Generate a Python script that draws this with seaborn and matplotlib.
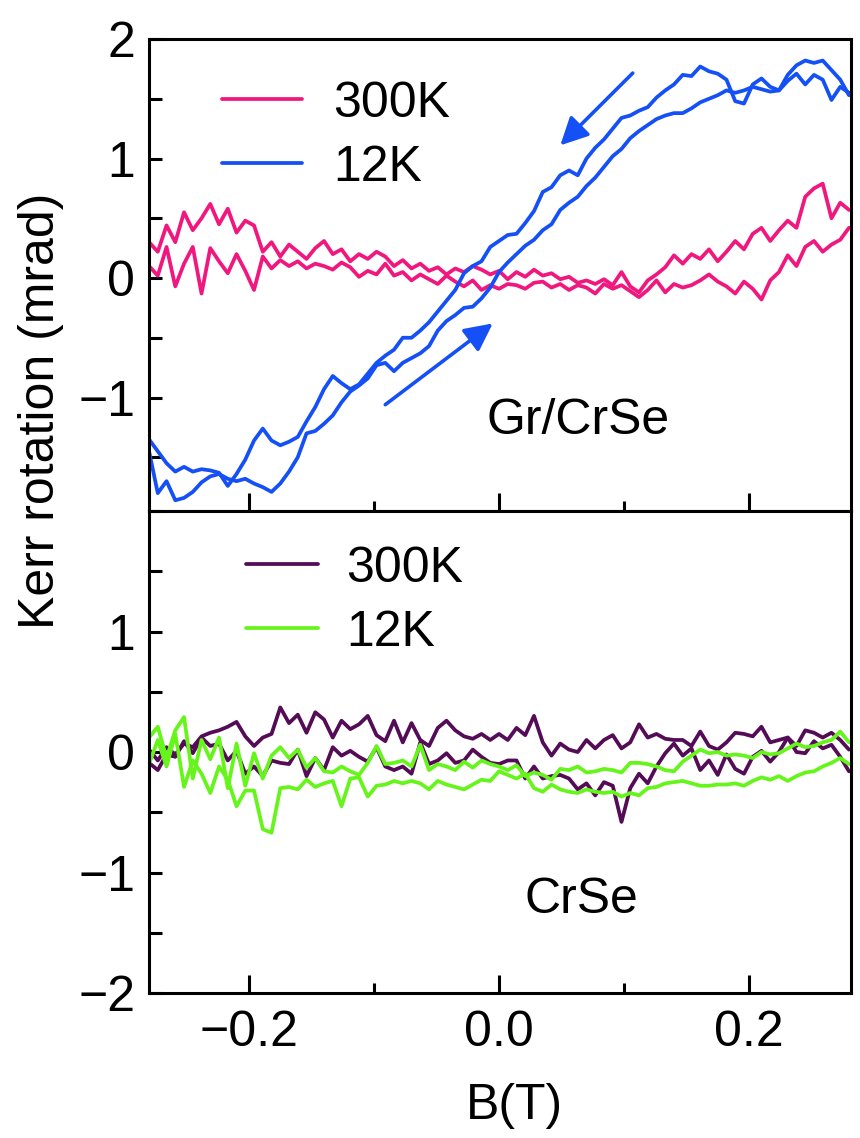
import numpy as np
import matplotlib
matplotlib.use("Agg")
import matplotlib.pyplot as plt
from matplotlib.ticker import MultipleLocator
import seaborn as sns

sns.set_style("ticks")
plt.rcParams['font.family'] = ['Liberation Sans', 'DejaVu Sans']
plt.rcParams['axes.linewidth'] = 2.2
for key in ['text.color', 'axes.labelcolor', 'xtick.color', 'ytick.color', 'axes.edgecolor']:
    plt.rcParams[key] = 'black'

# magnetic field sweep (T), same points for every branch
field = [-0.280, -0.273, -0.266, -0.259, -0.252, -0.245, -0.238, -0.231, -0.224, -0.217,
         -0.210, -0.203, -0.196, -0.189, -0.182, -0.175, -0.168, -0.161, -0.154, -0.147,
         -0.140, -0.133, -0.126, -0.119, -0.112, -0.105, -0.098, -0.091, -0.084, -0.077,
         -0.070, -0.063, -0.056, -0.049, -0.042, -0.035, -0.028, -0.021, -0.014, -0.007,
         0.000, 0.007, 0.014, 0.021, 0.028, 0.035, 0.042, 0.049, 0.056, 0.063,
         0.070, 0.077, 0.084, 0.091, 0.098, 0.105, 0.112, 0.119, 0.126, 0.133,
         0.140, 0.147, 0.154, 0.161, 0.168, 0.175, 0.182, 0.189, 0.196, 0.203,
         0.210, 0.217, 0.224, 0.231, 0.238, 0.245, 0.252, 0.259, 0.266, 0.273, 0.280]

# Gr/CrSe, 300K (two sweep branches)
gr_300_a = [0.30, 0.22, 0.44, 0.30, 0.55, 0.40, 0.50, 0.62, 0.45, 0.58,
            0.38, 0.48, 0.44, 0.22, 0.30, 0.18, 0.28, 0.22, 0.16, 0.25,
            0.31, 0.20, 0.24, 0.14, 0.20, 0.16, 0.22, 0.18, 0.10, 0.15,
            0.08, 0.12, 0.06, 0.09, 0.03, 0.08, 0.05, 0.10, 0.07, 0.03,
            0.06, -0.01, 0.05, 0.01, 0.07, 0.02, 0.04, -0.01, 0.01, -0.04,
            -0.02, -0.05, -0.01, -0.06, 0.05, -0.07, -0.12, -0.02, 0.03, 0.09,
            0.19, 0.12, 0.20, 0.16, 0.24, 0.14, 0.22, 0.31, 0.24, 0.37,
            0.42, 0.31, 0.40, 0.48, 0.42, 0.68, 0.75, 0.79, 0.50, 0.63, 0.57]
gr_300_b = [0.10, 0.02, 0.26, -0.07, 0.12, 0.26, -0.13, 0.25, 0.14, 0.04,
            0.20, 0.06, -0.10, 0.18, 0.08, 0.15, 0.10, 0.14, 0.08, 0.12,
            0.10, 0.07, 0.13, 0.09, 0.01, 0.06, 0.03, 0.12, 0.02, 0.05,
            -0.02, 0.03, -0.01, -0.05, 0.02, -0.03, -0.07, -0.02, -0.10, -0.06,
            -0.09, -0.05, -0.06, -0.09, -0.04, -0.03, -0.08, -0.05, -0.10, -0.06,
            -0.08, -0.13, -0.05, -0.09, -0.06, -0.11, -0.16, -0.10, -0.02, -0.12,
            -0.05, -0.08, -0.06, -0.02, 0.03, -0.03, -0.07, -0.13, -0.03, -0.09,
            -0.18, -0.02, 0.05, 0.19, 0.10, 0.26, 0.31, 0.22, 0.28, 0.32, 0.42]

# Gr/CrSe, 12K: down sweep and up sweep
gr_12_down = [-1.35, -1.45, -1.55, -1.62, -1.58, -1.62, -1.60, -1.61, -1.63, -1.74,
              -1.64, -1.52, -1.36, -1.26, -1.36, -1.40, -1.37, -1.33, -1.20, -1.08,
              -0.93, -0.82, -0.88, -0.93, -0.89, -0.80, -0.71, -0.65, -0.60, -0.50,
              -0.50, -0.44, -0.37, -0.28, -0.19, -0.10, 0.04, 0.10, 0.14, 0.26,
              0.31, 0.36, 0.37, 0.46, 0.56, 0.72, 0.76, 0.86, 0.90, 0.86,
              1.00, 1.09, 1.16, 1.25, 1.34, 1.36, 1.40, 1.43, 1.51, 1.57,
              1.62, 1.70, 1.69, 1.77, 1.73, 1.71, 1.66, 1.48, 1.46, 1.62,
              1.67, 1.60, 1.57, 1.70, 1.78, 1.82, 1.80, 1.82, 1.74, 1.66, 1.53]
gr_12_up = [-1.45, -1.80, -1.70, -1.86, -1.84, -1.79, -1.71, -1.66, -1.64, -1.68,
            -1.70, -1.68, -1.72, -1.75, -1.79, -1.72, -1.62, -1.50, -1.30, -1.28,
            -1.22, -1.15, -1.04, -0.95, -0.90, -0.84, -0.73, -0.71, -0.78, -0.71,
            -0.67, -0.63, -0.57, -0.44, -0.36, -0.31, -0.25, -0.24, -0.17, -0.08,
            0.05, 0.13, 0.20, 0.27, 0.32, 0.40, 0.45, 0.57, 0.63, 0.68,
            0.77, 0.84, 0.93, 1.02, 1.08, 1.17, 1.23, 1.28, 1.33, 1.36,
            1.38, 1.38, 1.42, 1.47, 1.50, 1.53, 1.57, 1.55, 1.57, 1.60,
            1.58, 1.56, 1.57, 1.65, 1.71, 1.62, 1.70, 1.66, 1.49, 1.60, 1.55]

# CrSe, 300K
cr_300_a = [0.02, -0.07, 0.04, -0.02, 0.07, 0.04, 0.13, 0.16, 0.18, 0.21,
            0.25, 0.13, 0.05, 0.12, 0.15, 0.37, 0.24, 0.31, 0.16, 0.33,
            0.27, 0.12, 0.26, 0.19, 0.23, 0.30, 0.14, 0.09, 0.26, 0.08,
            0.24, 0.10, 0.05, 0.20, 0.26, 0.18, 0.13, 0.11, 0.15, 0.10,
            0.15, 0.10, 0.20, 0.14, 0.30, 0.08, -0.03, 0.07, 0.02, 0.00,
            0.10, 0.03, 0.10, 0.14, 0.03, 0.08, 0.23, 0.12, 0.15, 0.11,
            0.10, 0.10, 0.05, 0.17, 0.05, 0.02, 0.08, 0.16, 0.15, 0.13,
            0.21, 0.08, 0.10, 0.12, 0.05, 0.18, 0.16, 0.12, 0.16, 0.10, 0.02]
cr_300_b = [-0.09, -0.15, -0.02, -0.04, 0.09, -0.01, 0.12, 0.05, 0.07, -0.07,
            0.01, -0.18, -0.12, -0.20, -0.07, -0.09, -0.10, 0.02, -0.20, -0.05,
            -0.15, 0.04, -0.03, 0.01, -0.04, -0.08, 0.04, -0.12, -0.15, -0.12,
            -0.18, 0.08, -0.10, -0.07, -0.01, -0.09, -0.07, 0.02, -0.04, -0.09,
            -0.10, -0.07, -0.07, -0.22, -0.12, -0.22, -0.20, -0.19, -0.22, -0.31,
            -0.26, -0.36, -0.25, -0.28, -0.58, -0.30, -0.18, -0.26, -0.12, -0.01,
            0.07, -0.03, 0.03, -0.15, -0.07, -0.19, -0.02, -0.14, -0.18, -0.04,
            0.01, -0.08, 0.00, 0.12, 0.00, -0.01, 0.09, 0.03, 0.06, -0.04, -0.16]

# CrSe, 12K
cr_12_a = [0.12, 0.21, -0.05, 0.18, 0.29, -0.22, 0.10, -0.06, 0.12, -0.30,
           0.07, -0.28, -0.01, -0.22, -0.03, 0.04, -0.05, 0.02, -0.13, -0.05,
           -0.16, -0.17, -0.12, -0.16, -0.19, -0.09, 0.05, -0.10, -0.09, -0.07,
           -0.12, 0.06, -0.15, -0.10, -0.12, -0.15, -0.08, -0.13, -0.07, -0.10,
           -0.12, -0.15, -0.11, -0.20, -0.17, -0.19, -0.23, -0.14, -0.15, -0.12,
           -0.17, -0.16, -0.14, -0.15, -0.17, -0.09, -0.09, -0.10, -0.12, -0.15,
           -0.16, -0.08, -0.03, 0.02, -0.01, 0.00, -0.03, -0.02, -0.03, -0.05,
           0.00, -0.02, -0.01, 0.03, 0.07, 0.04, 0.05, 0.08, 0.10, 0.17, 0.08]
cr_12_b = [-0.10, 0.10, -0.12, 0.15, -0.29, -0.07, -0.18, -0.34, -0.12, -0.23,
           -0.45, -0.32, -0.32, -0.64, -0.67, -0.30, -0.29, -0.31, -0.23, -0.29,
           -0.26, -0.24, -0.45, -0.22, -0.21, -0.37, -0.28, -0.27, -0.24, -0.26,
           -0.24, -0.26, -0.31, -0.24, -0.27, -0.29, -0.31, -0.27, -0.23, -0.24,
           -0.16, -0.19, -0.22, -0.18, -0.30, -0.33, -0.27, -0.31, -0.33, -0.34,
           -0.31, -0.33, -0.34, -0.33, -0.37, -0.34, -0.36, -0.30, -0.29, -0.26,
           -0.25, -0.24, -0.26, -0.28, -0.28, -0.27, -0.27, -0.26, -0.28, -0.24,
           -0.21, -0.23, -0.20, -0.24, -0.20, -0.17, -0.16, -0.12, -0.09, -0.05, -0.10]

pink = '#F0187F'
blue = '#1450F5'
purple = '#540C57'
green = '#66F51A'
fs = 36
lw = 2.7

fig, (ax1, ax2) = plt.subplots(2, 1, figsize=(8.6, 11.38), dpi=100, sharex=True,
                               gridspec_kw={'height_ratios': [472, 482], 'hspace': 0})
fig.subplots_adjust(left=0.1733, right=0.9895, top=0.9657, bottom=0.1274)

#Top panel: Gr/CrSe
sns.lineplot(x=field, y=gr_300_a, ax=ax1, color=pink, linewidth=lw, estimator=None, label='300K')
sns.lineplot(x=field, y=gr_300_b, ax=ax1, color=pink, linewidth=lw, estimator=None, label='_nolegend_')
sns.lineplot(x=field, y=gr_12_down, ax=ax1, color=blue, linewidth=lw, estimator=None, label='12K')
sns.lineplot(x=field, y=gr_12_up, ax=ax1, color=blue, linewidth=lw, estimator=None, label='_nolegend_')

#Bottom panel: CrSe
sns.lineplot(x=field, y=cr_300_a, ax=ax2, color=purple, linewidth=lw, estimator=None, label='300K')
sns.lineplot(x=field, y=cr_300_b, ax=ax2, color=purple, linewidth=lw, estimator=None, label='_nolegend_')
sns.lineplot(x=field, y=cr_12_a, ax=ax2, color=green, linewidth=lw, estimator=None, label='12K')
sns.lineplot(x=field, y=cr_12_b, ax=ax2, color=green, linewidth=lw, estimator=None, label='_nolegend_')

ax1.set_xlim(-0.28, 0.2816)
ax1.set_ylim(-1.95, 2.0)
ax2.set_ylim(-2.0, 2.0)
ax1.set_yticks([-1, 0, 1, 2])
ax2.set_yticks([-2, -1, 0, 1])
ax2.set_xticks([-0.2, 0.0, 0.2])
ax2.set_xticklabels(['\u22120.2', '0.0', '0.2'])
ax1.set_yticklabels(['\u22121', '0', '1', '2'])
ax2.set_yticklabels(['\u22122', '\u22121', '0', '1'])
for ax in (ax1, ax2):
    ax.yaxis.set_minor_locator(MultipleLocator(0.5))
    ax.xaxis.set_minor_locator(MultipleLocator(0.1))
    ax.tick_params(axis='both', which='both', direction='in', width=2.2, labelsize=fs,
                   top=False, right=False)
    ax.tick_params(axis='y', which='both', length=9.5, pad=10)
    ax.tick_params(axis='x', which='major', length=13, pad=12)
    ax.tick_params(axis='x', which='minor', length=7)
    ax.set_xlabel('')
    ax.set_ylabel('')
ax1.tick_params(axis='x', labelbottom=False)

ax1.legend(loc='upper left', bbox_to_anchor=(0.104, 0.912), frameon=False, fontsize=fs,
           handlelength=1.6, handletextpad=0.62, labelspacing=0.36, borderpad=0, borderaxespad=0)
ax2.legend(loc='upper left', bbox_to_anchor=(0.138, 0.928), frameon=False, fontsize=fs,
           handlelength=1.45, handletextpad=0.55, labelspacing=0.36, borderpad=0, borderaxespad=0)

ax1.text(0.063, -1.2, 'Gr/CrSe', fontsize=fs, ha='center', va='center')
ax2.text(0.066, -1.23, 'CrSe', fontsize=fs, ha='center', va='center')

arrow = dict(arrowstyle='-|>', color=blue, lw=2.6, mutation_scale=42, shrinkA=0, shrinkB=0)
ax1.annotate('', xy=(0.049, 1.11), xytext=(0.107, 1.715), arrowprops=arrow)
ax1.annotate('', xy=(-0.005, -0.38), xytext=(-0.091, -1.06), arrowprops=arrow)

fig.text(0.048, 0.639, 'Kerr rotation (mrad)', fontsize=fs, rotation=90, ha='center', va='center')
fig.text(0.598, 0.028, 'B(T)', fontsize=fs, ha='center', va='center')

fig.savefig('out.png', dpi=100)
